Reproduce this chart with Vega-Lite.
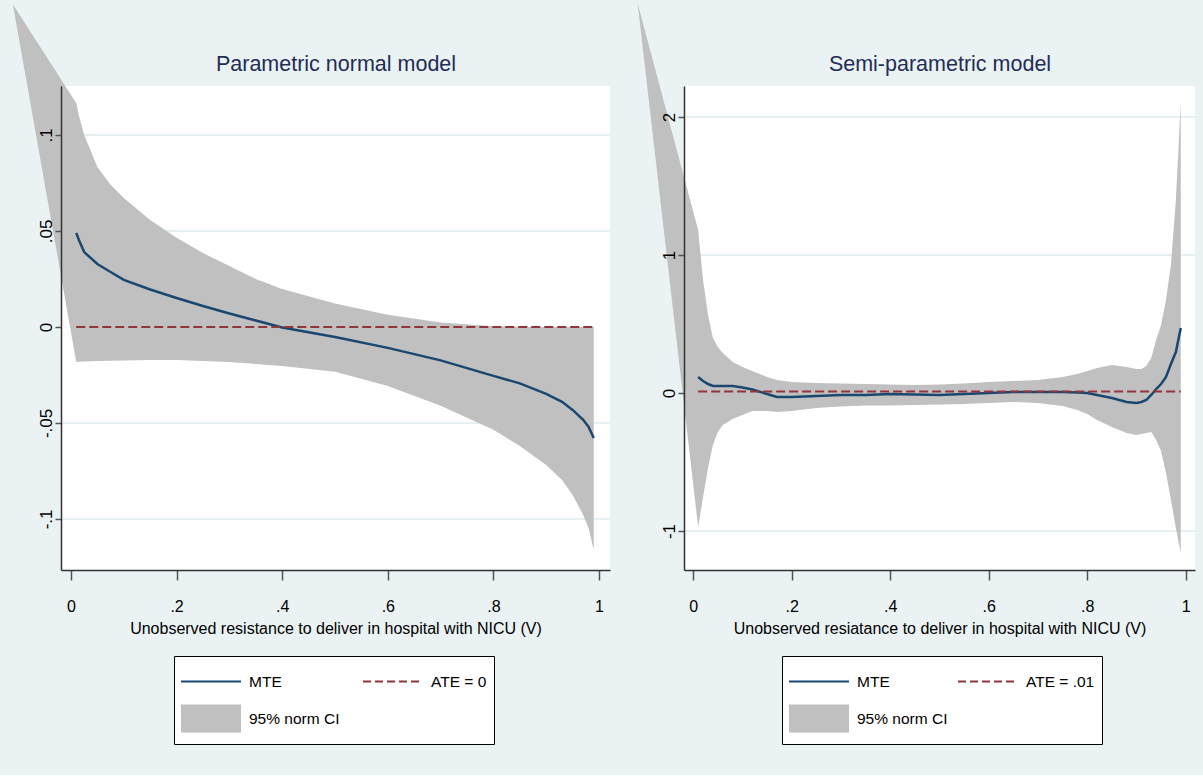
{
  "$schema": "https://vega.github.io/schema/vega-lite/v6.json",
  "background": "#EAF2F3",
  "padding": {"left": 12, "top": 3, "right": 9, "bottom": 30},
  "bounds": "flush",
  "spacing": 74,
  "config": {
    "view": {"fill": "white", "stroke": null},
    "font": "Liberation Sans",
    "axis": {
      "domainColor": "#333333", "domainWidth": 1.5, "tickColor": "#555555", "tickWidth": 1.5,
      "labelFont": "Liberation Sans", "labelFontSize": 16, "labelColor": "black",
      "titleFont": "Liberation Sans", "titleFontSize": 16, "titleFontWeight": "normal", "titleColor": "black",
      "grid": false, "labelFlush": false, "labelOverlap": false
    },
    "legend": {
      "labelFont": "Liberation Sans", "labelFontSize": 15.5, "labelColor": "black"
    }
  },
  "datasets": {
    "leftBand": [
      {"v": -0.11, "hi": 0.168, "lo": 0.168, "mte": null},
      {"v": 0.01, "hi": 0.1167, "lo": -0.0182, "mte": 0.049},
      {"v": 0.015, "hi": 0.11, "lo": -0.0181, "mte": 0.0453},
      {"v": 0.025, "hi": 0.1, "lo": -0.018, "mte": 0.039},
      {"v": 0.05, "hi": 0.0833, "lo": -0.0177, "mte": 0.0328},
      {"v": 0.075, "hi": 0.074, "lo": -0.0176, "mte": 0.0286},
      {"v": 0.1, "hi": 0.0672, "lo": -0.0175, "mte": 0.0245},
      {"v": 0.15, "hi": 0.0557, "lo": -0.0172, "mte": 0.0195},
      {"v": 0.2, "hi": 0.0464, "lo": -0.0172, "mte": 0.0151},
      {"v": 0.25, "hi": 0.0385, "lo": -0.0177, "mte": 0.0109},
      {"v": 0.3, "hi": 0.0318, "lo": -0.0182, "mte": 0.007},
      {"v": 0.35, "hi": 0.025, "lo": -0.0193, "mte": 0.0034},
      {"v": 0.4, "hi": 0.0198, "lo": -0.0203, "mte": -0.0003},
      {"v": 0.5, "hi": 0.0122, "lo": -0.0234, "mte": -0.0052},
      {"v": 0.6, "hi": 0.0063, "lo": -0.0307, "mte": -0.0109},
      {"v": 0.7, "hi": 0.0023, "lo": -0.0411, "mte": -0.0174},
      {"v": 0.8, "hi": 0.0003, "lo": -0.0536, "mte": -0.0255},
      {"v": 0.85, "hi": 0.0001, "lo": -0.062, "mte": -0.0294},
      {"v": 0.9, "hi": 0.0, "lo": -0.0719, "mte": -0.0349},
      {"v": 0.93, "hi": 0.0, "lo": -0.0797, "mte": -0.039},
      {"v": 0.95, "hi": 0.0, "lo": -0.0875, "mte": -0.0432},
      {"v": 0.97, "hi": 0.0, "lo": -0.0979, "mte": -0.0484},
      {"v": 0.98, "hi": 0.0, "lo": -0.1047, "mte": -0.052},
      {"v": 0.99, "hi": 0.0, "lo": -0.1161, "mte": -0.0578}
    ],
    "leftATE": [{"v": 0.01, "ate": 0}, {"v": 0.99, "ate": 0}],
    "leftGrid": [{"g": -0.1}, {"g": -0.05}, {"g": 0.05}, {"g": 0.1}],
    "rightBand": [
      {"v": -0.113, "hi": 2.826, "lo": 2.826, "mte": null},
      {"v": 0.01, "hi": 1.181, "lo": -0.971, "mte": 0.116},
      {"v": 0.015, "hi": 1.0, "lo": -0.862, "mte": 0.101},
      {"v": 0.02, "hi": 0.819, "lo": -0.754, "mte": 0.087},
      {"v": 0.03, "hi": 0.565, "lo": -0.543, "mte": 0.065},
      {"v": 0.04, "hi": 0.399, "lo": -0.377, "mte": 0.051},
      {"v": 0.05, "hi": 0.333, "lo": -0.283, "mte": 0.051},
      {"v": 0.06, "hi": 0.29, "lo": -0.232, "mte": 0.051},
      {"v": 0.08, "hi": 0.225, "lo": -0.188, "mte": 0.051},
      {"v": 0.1, "hi": 0.188, "lo": -0.159, "mte": 0.04},
      {"v": 0.12, "hi": 0.159, "lo": -0.13, "mte": 0.025},
      {"v": 0.15, "hi": 0.116, "lo": -0.13, "mte": -0.007},
      {"v": 0.17, "hi": 0.094, "lo": -0.138, "mte": -0.029},
      {"v": 0.2, "hi": 0.08, "lo": -0.13, "mte": -0.029},
      {"v": 0.25, "hi": 0.072, "lo": -0.109, "mte": -0.022},
      {"v": 0.3, "hi": 0.069, "lo": -0.098, "mte": -0.014},
      {"v": 0.35, "hi": 0.065, "lo": -0.091, "mte": -0.014},
      {"v": 0.4, "hi": 0.062, "lo": -0.091, "mte": -0.007},
      {"v": 0.45, "hi": 0.058, "lo": -0.087, "mte": -0.011},
      {"v": 0.5, "hi": 0.062, "lo": -0.083, "mte": -0.014},
      {"v": 0.55, "hi": 0.069, "lo": -0.08, "mte": -0.007},
      {"v": 0.6, "hi": 0.08, "lo": -0.072, "mte": 0.0},
      {"v": 0.65, "hi": 0.087, "lo": -0.065, "mte": 0.007},
      {"v": 0.7, "hi": 0.094, "lo": -0.072, "mte": 0.007},
      {"v": 0.75, "hi": 0.116, "lo": -0.094, "mte": 0.007},
      {"v": 0.78, "hi": 0.138, "lo": -0.123, "mte": 0.004},
      {"v": 0.8, "hi": 0.159, "lo": -0.152, "mte": 0.0},
      {"v": 0.82, "hi": 0.181, "lo": -0.196, "mte": -0.014},
      {"v": 0.85, "hi": 0.203, "lo": -0.246, "mte": -0.036},
      {"v": 0.88, "hi": 0.188, "lo": -0.29, "mte": -0.065},
      {"v": 0.9, "hi": 0.174, "lo": -0.304, "mte": -0.072},
      {"v": 0.91, "hi": 0.174, "lo": -0.297, "mte": -0.065},
      {"v": 0.92, "hi": 0.196, "lo": -0.29, "mte": -0.051},
      {"v": 0.93, "hi": 0.254, "lo": -0.283, "mte": -0.014},
      {"v": 0.94, "hi": 0.384, "lo": -0.341, "mte": 0.029},
      {"v": 0.95, "hi": 0.493, "lo": -0.42, "mte": 0.065},
      {"v": 0.96, "hi": 0.674, "lo": -0.58, "mte": 0.116},
      {"v": 0.97, "hi": 0.928, "lo": -0.775, "mte": 0.21},
      {"v": 0.98, "hi": 1.399, "lo": -0.978, "mte": 0.297},
      {"v": 0.99, "hi": 2.101, "lo": -1.159, "mte": 0.471}
    ],
    "rightATE": [{"v": 0.01, "ate": 0.01}, {"v": 0.99, "ate": 0.01}],
    "rightGrid": [{"g": -1}, {"g": 1}, {"g": 2}]
  },
  "hconcat": [
    {
      "width": 549,
      "height": 484,
      "resolve": {"axis": {"x": "independent"}},
      "layer": [
        {
          "data": {"name": "leftGrid"},
          "mark": {"type": "rule", "color": "#E6EFF1", "strokeWidth": 2},
          "encoding": {"y": {"field": "g", "type": "quantitative"}}
        },
        {
          "data": {"name": "leftBand"},
          "mark": {"type": "area", "clip": false, "opacity": 1},
          "encoding": {
            "x": {"field": "v", "type": "quantitative",
              "scale": {"domain": [-0.0189, 1.0208], "nice": false, "zero": false},
              "axis": {"zindex": 1, "values": [0, 0.2, 0.4, 0.6, 0.8, 1], "labelExpr": "replace(datum.value + '', regexp('^(-?)0[.]'), '$1.')", "tickSize": 10, "labelPadding": 18, "labelBaseline": "top", "labelAlign": "center", "title": "Unobserved resistance to deliver in hospital with NICU (V)", "titlePadding": 6}},
            "y": {"field": "hi", "type": "quantitative",
              "scale": {"domain": [-0.1266, 0.1255], "nice": false, "zero": false},
              "axis": {"zindex": 1, "values": [-0.1, -0.05, 0, 0.05, 0.1], "labelExpr": "replace(datum.value + '', regexp('^(-?)0[.]'), '$1.')", "labelAngle": -90, "labelAlign": "center", "labelBaseline": "alphabetic", "labelFontSize": 17, "tickSize": 6, "labelPadding": 4, "title": null}},
            "y2": {"field": "lo"},
            "color": {"datum": "95% norm CI", "type": "nominal",
              "scale": {"domain": ["MTE", "95% norm CI", "ATE = 0"], "range": ["#1a476f", "#c0c0c0", "#90353b"]},
              "legend": {"title": null, "orient": "none", "legendX": 113, "legendY": 570, "columns": 2, "columnPadding": 23, "rowPadding": 0, "padding": 7, "strokeColor": "black", "fillColor": "white", "labelOffset": 8, "symbolSize": 3600, "symbolStrokeWidth": 0, "clipHeight": 37, "labelLimit": 300, "symbolType": "stroke",
                "encode": {
                  "symbols": {"update": {
                    "x": {"value": 30},
                    "shape": {"signal": "datum.value == '95% norm CI' ? 'M-1,-0.467H1V0.467H-1Z' : 'stroke'"},
                    "fill": {"signal": "datum.value == '95% norm CI' ? '#c0c0c0' : 'transparent'"},
                    "stroke": {"signal": "datum.value == 'MTE' ? '#1a476f' : (datum.value == '95% norm CI' ? '#c0c0c0' : '#90353b')"},
                    "strokeDash": {"signal": "datum.value == 'ATE = 0' ? [8, 4] : [1, 0]"},
                    "strokeWidth": {"signal": "datum.value == '95% norm CI' ? 0 : 2"},
                    "size": {"value": 3600},
                    "opacity": {"value": 1}
                  }},
                  "labels": {"update": {"x": {"value": 68}}}
                }}}
          }
        },
        {
          "data": {"name": "leftBand"},
          "transform": [{"filter": "isValid(datum.mte)"}],
          "mark": {"type": "line", "strokeWidth": 2.5},
          "encoding": {
            "x": {"field": "v", "type": "quantitative",
              "axis": {"orient": "top", "title": "Parametric normal model", "labels": false, "ticks": false, "domain": false, "grid": false, "titleFontSize": 21.5, "titleColor": "#1f2d57", "titleFontWeight": "normal", "titlePadding": 16, "titleBaseline": "alphabetic"}},
            "y": {"field": "mte", "type": "quantitative"},
            "color": {"datum": "MTE", "type": "nominal",
              "legend": {"title": null, "orient": "none", "legendX": 113, "legendY": 570, "columns": 2, "columnPadding": 23, "rowPadding": 0, "padding": 7, "strokeColor": "black", "fillColor": "white", "labelOffset": 8, "symbolSize": 3600, "symbolStrokeWidth": 0, "clipHeight": 37, "labelLimit": 300, "symbolType": "stroke",
                "encode": {
                  "symbols": {"update": {
                    "x": {"value": 30},
                    "shape": {"signal": "datum.value == '95% norm CI' ? 'M-1,-0.467H1V0.467H-1Z' : 'stroke'"},
                    "fill": {"signal": "datum.value == '95% norm CI' ? '#c0c0c0' : 'transparent'"},
                    "stroke": {"signal": "datum.value == 'MTE' ? '#1a476f' : (datum.value == '95% norm CI' ? '#c0c0c0' : '#90353b')"},
                    "strokeDash": {"signal": "datum.value == 'ATE = 0' ? [8, 4] : [1, 0]"},
                    "strokeWidth": {"signal": "datum.value == '95% norm CI' ? 0 : 2"},
                    "size": {"value": 3600},
                    "opacity": {"value": 1}
                  }},
                  "labels": {"update": {"x": {"value": 68}}}
                }}}
          }
        },
        {
          "data": {"name": "leftATE"},
          "mark": {"type": "line", "strokeWidth": 2, "strokeDash": [9, 4]},
          "encoding": {
            "x": {"field": "v", "type": "quantitative", "axis": null},
            "y": {"field": "ate", "type": "quantitative"},
            "color": {"datum": "ATE = 0", "type": "nominal",
              "legend": {"title": null, "orient": "none", "legendX": 113, "legendY": 570, "columns": 2, "columnPadding": 23, "rowPadding": 0, "padding": 7, "strokeColor": "black", "fillColor": "white", "labelOffset": 8, "symbolSize": 3600, "symbolStrokeWidth": 0, "clipHeight": 37, "labelLimit": 300, "symbolType": "stroke",
                "encode": {
                  "symbols": {"update": {
                    "x": {"value": 30},
                    "shape": {"signal": "datum.value == '95% norm CI' ? 'M-1,-0.467H1V0.467H-1Z' : 'stroke'"},
                    "fill": {"signal": "datum.value == '95% norm CI' ? '#c0c0c0' : 'transparent'"},
                    "stroke": {"signal": "datum.value == 'MTE' ? '#1a476f' : (datum.value == '95% norm CI' ? '#c0c0c0' : '#90353b')"},
                    "strokeDash": {"signal": "datum.value == 'ATE = 0' ? [8, 4] : [1, 0]"},
                    "strokeWidth": {"signal": "datum.value == '95% norm CI' ? 0 : 2"},
                    "size": {"value": 3600},
                    "opacity": {"value": 1}
                  }},
                  "labels": {"update": {"x": {"value": 68}}}
                }}}
          }
        }
      ]
    },
    {
      "width": 511,
      "height": 484,
      "resolve": {"axis": {"x": "independent"}},
      "layer": [
        {
          "data": {"name": "rightGrid"},
          "mark": {"type": "rule", "color": "#E6EFF1", "strokeWidth": 2},
          "encoding": {"y": {"field": "g", "type": "quantitative"}}
        },
        {
          "data": {"name": "rightBand"},
          "mark": {"type": "area", "clip": false, "opacity": 1},
          "encoding": {
            "x": {"field": "v", "type": "quantitative",
              "scale": {"domain": [-0.0187, 1.0189], "nice": false, "zero": false},
              "axis": {"zindex": 1, "values": [0, 0.2, 0.4, 0.6, 0.8, 1], "labelExpr": "replace(datum.value + '', regexp('^(-?)0[.]'), '$1.')", "tickSize": 10, "labelPadding": 18, "labelBaseline": "top", "labelAlign": "center", "title": "Unobserved resiatance to deliver in hospital with NICU (V)", "titlePadding": 6}},
            "y": {"field": "hi", "type": "quantitative",
              "scale": {"domain": [-1.2826, 2.2246], "nice": false, "zero": false},
              "axis": {"zindex": 1, "values": [-1, 0, 1, 2], "labelExpr": "replace(datum.value + '', regexp('^(-?)0[.]'), '$1.')", "labelAngle": -90, "labelAlign": "center", "labelBaseline": "alphabetic", "labelFontSize": 17, "tickSize": 6, "labelPadding": 4, "title": null}},
            "y2": {"field": "lo"},
            "color": {"datum": "95% norm CI", "type": "nominal",
              "scale": {"domain": ["MTE", "95% norm CI", "ATE = .01"], "range": ["#1a476f", "#c0c0c0", "#90353b"]},
              "legend": {"title": null, "orient": "none", "legendX": 98, "legendY": 570, "columns": 2, "columnPadding": 10, "rowPadding": 0, "padding": 7, "strokeColor": "black", "fillColor": "white", "labelOffset": 8, "symbolSize": 3600, "symbolStrokeWidth": 0, "clipHeight": 37, "labelLimit": 300, "symbolType": "stroke",
                "encode": {
                  "symbols": {"update": {
                    "x": {"value": 30},
                    "shape": {"signal": "datum.value == '95% norm CI' ? 'M-1,-0.467H1V0.467H-1Z' : 'stroke'"},
                    "fill": {"signal": "datum.value == '95% norm CI' ? '#c0c0c0' : 'transparent'"},
                    "stroke": {"signal": "datum.value == 'MTE' ? '#1a476f' : (datum.value == '95% norm CI' ? '#c0c0c0' : '#90353b')"},
                    "strokeDash": {"signal": "datum.value == 'ATE = .01' ? [8, 4] : [1, 0]"},
                    "strokeWidth": {"signal": "datum.value == '95% norm CI' ? 0 : 2"},
                    "size": {"value": 3600},
                    "opacity": {"value": 1}
                  }},
                  "labels": {"update": {"x": {"value": 68}}}
                }}}
          }
        },
        {
          "data": {"name": "rightBand"},
          "transform": [{"filter": "isValid(datum.mte)"}],
          "mark": {"type": "line", "strokeWidth": 2.5},
          "encoding": {
            "x": {"field": "v", "type": "quantitative",
              "axis": {"orient": "top", "title": "Semi-parametric model", "labels": false, "ticks": false, "domain": false, "grid": false, "titleFontSize": 21.5, "titleColor": "#1f2d57", "titleFontWeight": "normal", "titlePadding": 16, "titleBaseline": "alphabetic"}},
            "y": {"field": "mte", "type": "quantitative"},
            "color": {"datum": "MTE", "type": "nominal",
              "legend": {"title": null, "orient": "none", "legendX": 98, "legendY": 570, "columns": 2, "columnPadding": 10, "rowPadding": 0, "padding": 7, "strokeColor": "black", "fillColor": "white", "labelOffset": 8, "symbolSize": 3600, "symbolStrokeWidth": 0, "clipHeight": 37, "labelLimit": 300, "symbolType": "stroke",
                "encode": {
                  "symbols": {"update": {
                    "x": {"value": 30},
                    "shape": {"signal": "datum.value == '95% norm CI' ? 'M-1,-0.467H1V0.467H-1Z' : 'stroke'"},
                    "fill": {"signal": "datum.value == '95% norm CI' ? '#c0c0c0' : 'transparent'"},
                    "stroke": {"signal": "datum.value == 'MTE' ? '#1a476f' : (datum.value == '95% norm CI' ? '#c0c0c0' : '#90353b')"},
                    "strokeDash": {"signal": "datum.value == 'ATE = .01' ? [8, 4] : [1, 0]"},
                    "strokeWidth": {"signal": "datum.value == '95% norm CI' ? 0 : 2"},
                    "size": {"value": 3600},
                    "opacity": {"value": 1}
                  }},
                  "labels": {"update": {"x": {"value": 68}}}
                }}}
          }
        },
        {
          "data": {"name": "rightATE"},
          "mark": {"type": "line", "strokeWidth": 2, "strokeDash": [9, 4]},
          "encoding": {
            "x": {"field": "v", "type": "quantitative", "axis": null},
            "y": {"field": "ate", "type": "quantitative"},
            "color": {"datum": "ATE = .01", "type": "nominal",
              "legend": {"title": null, "orient": "none", "legendX": 98, "legendY": 570, "columns": 2, "columnPadding": 10, "rowPadding": 0, "padding": 7, "strokeColor": "black", "fillColor": "white", "labelOffset": 8, "symbolSize": 3600, "symbolStrokeWidth": 0, "clipHeight": 37, "labelLimit": 300, "symbolType": "stroke",
                "encode": {
                  "symbols": {"update": {
                    "x": {"value": 30},
                    "shape": {"signal": "datum.value == '95% norm CI' ? 'M-1,-0.467H1V0.467H-1Z' : 'stroke'"},
                    "fill": {"signal": "datum.value == '95% norm CI' ? '#c0c0c0' : 'transparent'"},
                    "stroke": {"signal": "datum.value == 'MTE' ? '#1a476f' : (datum.value == '95% norm CI' ? '#c0c0c0' : '#90353b')"},
                    "strokeDash": {"signal": "datum.value == 'ATE = .01' ? [8, 4] : [1, 0]"},
                    "strokeWidth": {"signal": "datum.value == '95% norm CI' ? 0 : 2"},
                    "size": {"value": 3600},
                    "opacity": {"value": 1}
                  }},
                  "labels": {"update": {"x": {"value": 68}}}
                }}}
          }
        }
      ]
    }
  ],
  "resolve": {"scale": {"color": "independent", "x": "independent", "y": "independent"}, "legend": {"color": "independent"}}
}
